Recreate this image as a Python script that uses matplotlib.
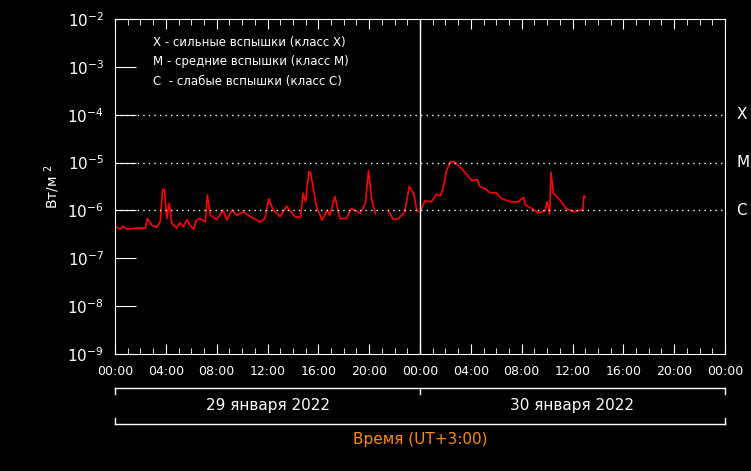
import matplotlib
matplotlib.use("Agg")
import matplotlib.pyplot as plt
import numpy as np
from matplotlib.ticker import FixedLocator, MultipleLocator

hours = [0,0.4,0.65,0.9,1.7,2.4,2.55,2.9,3.3,3.55,3.75,3.9,4.07,4.27,4.46,4.86,5.1,5.4,5.65,5.9,6.2,6.4,6.7,7.1,7.27,7.5,8.0,8.5,8.8,9.2,9.6,10.1,10.6,11.4,11.8,12.1,12.45,13.0,13.5,14.2,14.6,14.8,15.0,15.25,15.4,15.85,16.3,16.7,16.9,17.3,17.7,18.2,18.6,19.3,19.7,19.95,20.2,20.5,
         21.5,21.9,22.3,22.8,23.15,23.5,23.75,24.0,24.4,24.9,25.3,25.6,25.85,26.1,26.4,26.7,27.4,28.1,28.5,28.7,29.1,29.5,30.0,30.4,31.1,31.75,32.15,32.3,32.8,33.3,33.85,34.0,34.2,34.3,34.5,35.0,35.5,36.1,36.6,36.8,36.9,37.0]
logflux = [-6.33,-6.39,-6.33,-6.39,-6.37,-6.37,-6.17,-6.31,-6.35,-6.24,-5.56,-5.57,-6.17,-5.85,-6.27,-6.37,-6.26,-6.34,-6.19,-6.31,-6.39,-6.2,-6.17,-6.24,-5.68,-6.1,-6.19,-5.99,-6.2,-5.99,-6.1,-6.03,-6.12,-6.24,-6.17,-5.76,-5.99,-6.13,-5.91,-6.14,-6.14,-5.64,-5.82,-5.19,-5.22,-5.92,-6.2,-5.99,-6.1,-5.71,-6.17,-6.17,-5.96,-6.06,-5.85,-5.17,-5.78,-6.07,
           -6.0,-6.19,-6.17,-6.03,-5.5,-5.64,-6.0,-6.03,-5.8,-5.82,-5.66,-5.7,-5.5,-5.16,-4.98,-4.98,-5.16,-5.38,-5.35,-5.5,-5.54,-5.63,-5.63,-5.75,-5.82,-5.82,-5.73,-5.89,-5.96,-6.05,-6.01,-5.82,-6.08,-5.2,-5.64,-5.78,-5.96,-6.03,-5.99,-6.0,-5.7,-5.72]
gap_after = 20.5
xtick_labels = ["00:00","04:00","08:00","12:00","16:00","20:00","00:00","04:00","08:00","12:00","16:00","20:00","00:00"]
days = ["29 января 2022", "30 января 2022"]
legend_lines = ["X - сильные вспышки (класс X)", "M - средние вспышки (класс M)", "C  - слабые вспышки (класс C)"]
classes = [("X", 1e-4), ("M", 1e-5), ("C", 1e-6)]

fig = plt.figure(figsize=(7.51, 4.71), dpi=100, facecolor="black")
ax = fig.add_axes([115/751, 1-354/471, 610/751, 335/471], facecolor="black")
h = np.array(hours); f = 10**np.array(logflux)
m1 = h <= gap_after
ax.plot(h[m1], f[m1], color="red", lw=1.2)
ax.plot(h[~m1], f[~m1], color="red", lw=1.2)
ax.set_yscale("log")
ax.set_ylim(1e-9, 1e-2)
ax.set_xlim(0, 48)
for s in ax.spines.values():
    s.set_color("white")
ax.axvline(24, color="white", lw=1)
for lab, v in classes:
    ax.axhline(v, color="white", ls=(0, (1, 3)), lw=1)
    ax.text(48.9, v, lab, color="white", fontsize=11, va="center", ha="left")
ax.xaxis.set_major_locator(FixedLocator(np.arange(0, 49, 4)))
ax.xaxis.set_minor_locator(MultipleLocator(1))
ax.set_xticklabels(xtick_labels)
ax.yaxis.set_major_locator(FixedLocator([10.0**k for k in range(-9, -1)]))
ax.yaxis.set_minor_locator(FixedLocator([]))
ax.set_yticklabels([r"$10^{%d}$" % k for k in range(-9, -1)])
ax.tick_params(which="both", colors="white", direction="in", top=True, labelsize=9)
ax.tick_params(axis="x", which="major", length=7, pad=8)
ax.tick_params(axis="x", which="minor", length=4)
ax.tick_params(axis="y", which="major", length=15, labelsize=11, pad=8)
ax.set_ylabel("Вт/м $^2$", color="white", fontsize=10)
for i, t in enumerate(legend_lines):
    ax.text(0.062, 0.93 - i*0.058, t, transform=ax.transAxes, color="white", fontsize=8.5, va="center")
tr = ax.get_xaxis_transform()
ax.plot([0, 48], [-0.1, -0.1], color="white", lw=1, transform=tr, clip_on=False)
for x in (0, 24, 48):
    ax.plot([x, x], [-0.1, -0.12], color="white", lw=1, transform=tr, clip_on=False)
ax.plot([0, 48], [-0.21, -0.21], color="white", lw=1, transform=tr, clip_on=False)
for x in (0, 48):
    ax.plot([x, x], [-0.21, -0.19], color="white", lw=1, transform=tr, clip_on=False)
ax.text(12, -0.155, days[0], color="white", fontsize=11, ha="center", va="center", transform=tr)
ax.text(36, -0.155, days[1], color="white", fontsize=11, ha="center", va="center", transform=tr)
ax.text(24, -0.255, "Время (UT+3:00)", color="#ff8c00", fontsize=11, ha="center", va="center", transform=tr)
fig.savefig("out.png", dpi=100, facecolor="black")
